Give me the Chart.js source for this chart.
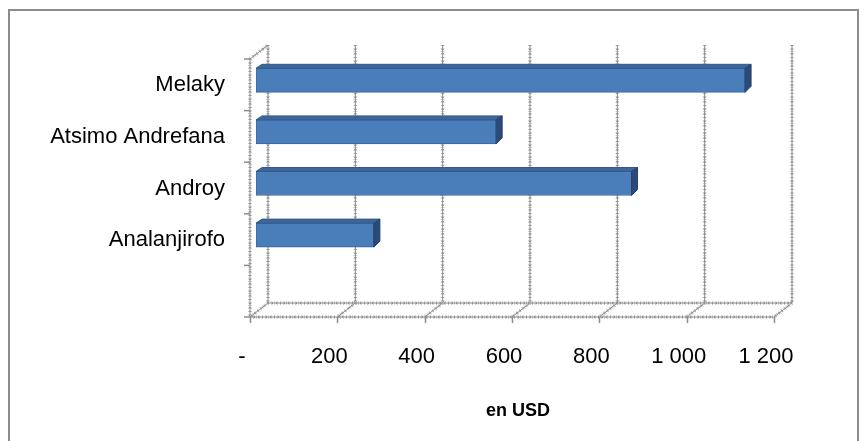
<!DOCTYPE html>
<html>
<head>
<meta charset="utf-8">
<script src="https://cdn.jsdelivr.net/npm/chart.js@4/dist/chart.umd.min.js"></script>
<style>
  html, body { margin: 0; padding: 0; background: #ffffff; }
  #wrap { position: relative; width: 865px; height: 441px; }
  canvas { display: block; }
</style>
</head>
<body>
<div id="wrap"><canvas id="c" width="865" height="441"></canvas></div>
<script>
// Regions, top to bottom (the last slot is left empty)
const regions = ['Melaky', 'Atsimo Andrefana', 'Androy', 'Analanjirofo', ''];
// Amounts in USD
const amounts = [1120, 550, 860, 270, null];
// Value axis tick labels (0 shown as a dash, space as thousands separator)
const valueTicks = ['-', '200', '400', '600', '800', '1 000', '1 200'];
const axisTitle = 'en USD';

// 3D box geometry: offset of the back wall from the front plane,
// and offset of the bars' front face from the front plane.
const DEPTH_X = 18, DEPTH_Y = 14;
const BAR_X = 6, BAR_Y = 4.5;

function beadLine(ctx, x1, y1, x2, y2) {
  ctx.save();
  ctx.lineCap = 'butt';
  ctx.strokeStyle = 'rgba(200,200,200,0.8)';
  ctx.lineWidth = 4;
  ctx.setLineDash([1, 2]);
  ctx.beginPath(); ctx.moveTo(x1, y1); ctx.lineTo(x2, y2); ctx.stroke();
  ctx.strokeStyle = 'rgba(150,150,150,0.9)';
  ctx.lineWidth = 2.5;
  ctx.setLineDash([1, 3]);
  ctx.beginPath(); ctx.moveTo(x1, y1); ctx.lineTo(x2, y2); ctx.stroke();
  ctx.setLineDash([]);
  ctx.strokeStyle = '#8a8a8a';
  ctx.lineWidth = 1;
  ctx.beginPath(); ctx.moveTo(x1, y1); ctx.lineTo(x2, y2); ctx.stroke();
  ctx.restore();
}

// Frame around the whole chart
const framePlugin = {
  id: 'frame',
  beforeDraw(chart) {
    const ctx = chart.ctx;
    ctx.save();
    ctx.fillStyle = '#ffffff';
    ctx.fillRect(0, 0, chart.width, chart.height);
    ctx.strokeStyle = '#8c8c8c';
    ctx.lineWidth = 2;
    ctx.strokeRect(9, 10, 849, 470);
    ctx.restore();
  }
};

// Back wall gridlines, floor edges and front axes of the 3D box
const boxPlugin = {
  id: 'box3d',
  beforeDatasetsDraw(chart) {
    const ctx = chart.ctx;
    const xs = chart.scales.x, ys = chart.scales.y;
    const ca = chart.chartArea;
    const fx = v => xs.getPixelForValue(v) - BAR_X;
    const bx = v => fx(v) + DEPTH_X;
    const frontTop = ca.top + BAR_Y, frontBottom = ca.bottom + BAR_Y;
    const backTop = frontTop - DEPTH_Y, backBottom = frontBottom - DEPTH_Y;

    xs.ticks.forEach(t => {
      const v = t.value;
      beadLine(ctx, bx(v), backTop, bx(v), backBottom);
      beadLine(ctx, bx(v), backBottom, fx(v), frontBottom);
    });
    // floor back edge
    beadLine(ctx, bx(xs.min), backBottom, bx(xs.max), backBottom);
    // left wall: top edge and front vertical axis
    beadLine(ctx, fx(xs.min), frontTop, bx(xs.min), backTop);
    beadLine(ctx, fx(xs.min), frontTop, fx(xs.min), frontBottom);
    // front value axis
    beadLine(ctx, fx(xs.min), frontBottom, fx(xs.max), frontBottom);

    ctx.save();
    ctx.strokeStyle = '#8e8e8e';
    ctx.lineWidth = 1.5;
    xs.ticks.forEach(t => {
      const x = Math.round(fx(t.value)) + 0.5;
      ctx.beginPath(); ctx.moveTo(x, frontBottom); ctx.lineTo(x, frontBottom + 6); ctx.stroke();
    });
    for (let i = 0; i <= regions.length; i++) {
      const y = ys.getPixelForValue(i - 0.5) + BAR_Y;
      ctx.beginPath(); ctx.moveTo(fx(xs.min) - 6, y); ctx.lineTo(fx(xs.min), y); ctx.stroke();
    }
    ctx.restore();
  },
  afterDatasetsDraw(chart) {
    // top face and end face of each bar
    const ctx = chart.ctx;
    const meta = chart.getDatasetMeta(0);
    const dx = 6, dy = 4;
    meta.data.forEach((el, i) => {
      if (amounts[i] === null) return;
      const p = el.getProps(['x', 'y', 'base', 'height'], true);
      const top = p.y - p.height / 2, bottom = p.y + p.height / 2;
      const x0 = p.base, x1 = p.x;
      ctx.save();
      ctx.fillStyle = '#3d669b';
      ctx.strokeStyle = '#35598a';
      ctx.lineWidth = 1;
      ctx.beginPath();
      ctx.moveTo(x0, top); ctx.lineTo(x1, top);
      ctx.lineTo(x1 + dx, top - dy); ctx.lineTo(x0 + dx, top - dy);
      ctx.closePath(); ctx.fill(); ctx.stroke();
      ctx.fillStyle = '#2b4a78';
      ctx.strokeStyle = '#25416b';
      ctx.beginPath();
      ctx.moveTo(x1, top); ctx.lineTo(x1 + dx, top - dy);
      ctx.lineTo(x1 + dx, bottom - dy - 2); ctx.lineTo(x1, bottom);
      ctx.closePath(); ctx.fill(); ctx.stroke();
      ctx.restore();
    });
  }
};

const ctx = document.getElementById('c').getContext('2d');
new Chart(ctx, {
  type: 'bar',
  data: {
    labels: regions,
    datasets: [{
      data: amounts,
      backgroundColor: '#4a7ebb',
      borderColor: '#3f6699',
      borderWidth: 1,
      borderSkipped: false,
      barThickness: 24
    }]
  },
  options: {
    indexAxis: 'y',
    responsive: false,
    devicePixelRatio: 1,
    animation: false,
    layout: { padding: { left: 0, top: 54.5, right: 85, bottom: 0 } },
    plugins: {
      legend: { display: false },
      tooltip: { enabled: false }
    },
    scales: {
      x: {
        type: 'linear',
        min: 0, max: 1200,
        grid: { display: false, drawTicks: false },
        border: { display: false },
        afterFit(s) { s.height = 128.5; },
        ticks: {
          stepSize: 200,
          autoSkip: false,
          maxRotation: 0,
          padding: 31,
          labelOffset: -14,
          color: '#000000',
          font: { family: 'Liberation Sans', size: 22 },
          callback: (v, i) => valueTicks[i]
        },
        title: {
          display: true,
          text: axisTitle,
          color: '#000000',
          font: { family: 'Liberation Sans', size: 18, weight: 'bold' },
          padding: { top: 0, bottom: 19 }
        }
      },
      y: {
        grid: { display: false, drawTicks: false },
        border: { display: false },
        afterFit(s) { s.width = 256; },
        ticks: {
          padding: 31,
          labelOffset: 5,
          color: '#000000',
          font: { family: 'Liberation Sans', size: 22 }
        }
      }
    }
  },
  plugins: [framePlugin, boxPlugin]
});
</script>
</body>
</html>
